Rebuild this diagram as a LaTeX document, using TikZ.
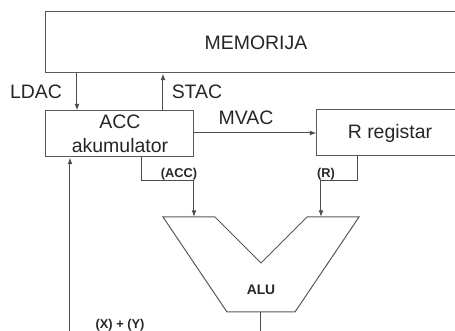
\documentclass[tikz,border=0pt]{standalone}
\usepackage{fontspec}
\setmainfont{Liberation Sans}
\usetikzlibrary{arrows.meta}
\begin{document}
\begin{tikzpicture}[x=0.75pt,y=-0.75pt,line width=0.75pt,
  every node/.style={font=\fontsize{14.6}{18}\selectfont,inner sep=1pt,text=black!85},
  box/.style={draw=black!65,align=center},
  sig/.style={font=\bfseries\fontsize{9.6}{11}\selectfont},
  arr/.style={draw=black!70,-{Latex[length=5pt,width=3.6pt]}}]
\useasboundingbox (0,0) rectangle (455,331);
\clip (0,0) rectangle (455,331);
\node[box,minimum width=420*0.75pt,minimum height=61*0.75pt] (mem) at (256,42.5) {MEMORIJA};
\node[box,minimum width=148*0.75pt,minimum height=46*0.75pt] (acc) at (120,134) {ACC\\akumulator};
\node[box,minimum width=146*0.75pt,minimum height=46*0.75pt] (reg) at (390,133) {R registar};
\coordinate (ld) at (77,0);
\coordinate (st) at (163,0);
\coordinate (ao) at (142,0);
\coordinate (ro) at (358,0);
\coordinate (fb) at (70,0);
\coordinate (aluA) at (194,217);
\coordinate (aluB) at (321,217);
\coordinate (aluO) at (261,312);
% ALU
\draw[black!65] (163,217) -- (215,217) -- (261,263) -- (307,217) -- (359,217)
  -- (295,312) -- (227,312) -- cycle;
\node[font=\bfseries\fontsize{10.4}{12}\selectfont] (alu) at (261,290) {ALU};
% veze
\draw[arr] (ld |- mem.south) -- (ld |- acc.north);
\draw[arr] (st |- acc.north) -- (st |- mem.south);
\draw[arr] (acc.east |- reg.west) -- (reg.west);
\draw[arr] (ao |- acc.south) -- ++(0,23) -| (aluA);
\draw[arr] (ro |- reg.south) -- ++(0,24) -| (aluB);
\draw[arr] (aluO) -- (261,350) -| (fb |- acc.south);
\node (ldac) at (36,92) {LDAC};
\node (stac) at (197,92) {STAC};
\node (mvac) at (246,118) {MVAC};
\node[sig] (lacc) at (179,174) {(ACC)};
\node[sig] (lr) at (326,174) {(R)};
\node[sig] (lxy) at (120,325) {(X) + (Y)};
\end{tikzpicture}
\end{document}
